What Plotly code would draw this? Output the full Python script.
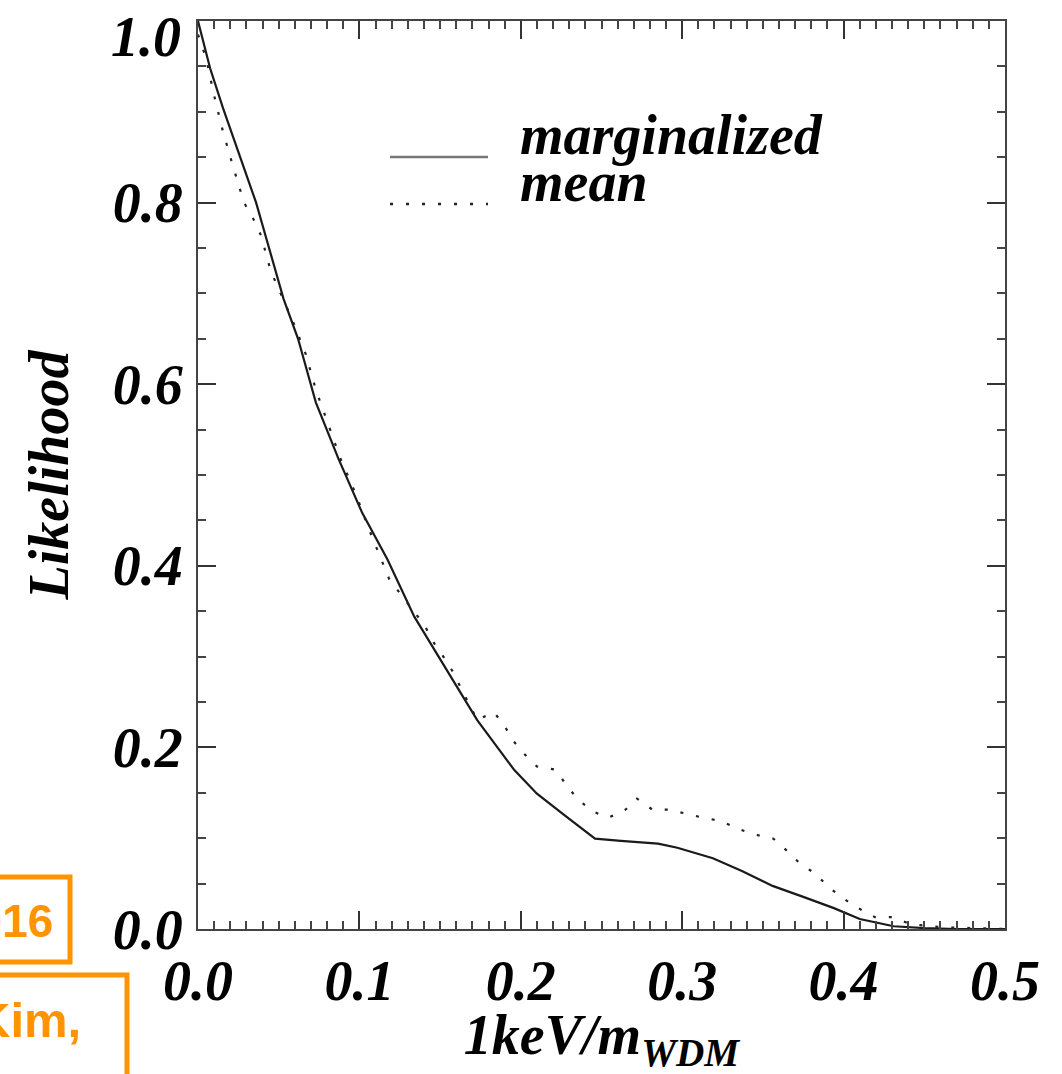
import plotly.graph_objects as go

# ---- data ----
x_marg = [0, 0.0075, 0.0155, 0.036, 0.053, 0.062, 0.073, 0.087, 0.1018, 0.1174, 0.134, 0.153,
          0.173, 0.196, 0.210, 0.228, 0.246, 0.262, 0.285, 0.297, 0.319, 0.337, 0.356, 0.375,
          0.394, 0.410, 0.431, 0.45, 0.47, 0.5]
y_marg = [1.0, 0.948, 0.904, 0.80, 0.694, 0.65, 0.58, 0.518, 0.458, 0.407, 0.344, 0.288,
          0.230, 0.175, 0.149, 0.124, 0.0995, 0.097, 0.094, 0.0895, 0.078, 0.064, 0.0475, 0.0354,
          0.023, 0.011, 0.003, 0.001, 0.0, 0.0]

x_mean = [0, 0.005, 0.010, 0.0155, 0.0217, 0.0285, 0.034, 0.039, 0.045, 0.0495, 0.0586, 0.0668,
          0.073, 0.0885, 0.098, 0.106, 0.1145, 0.119, 0.127, 0.133, 0.140, 0.145, 0.152, 0.158,
          0.163, 0.173, 0.183, 0.189, 0.195, 0.202, 0.210, 0.2215, 0.228, 0.235, 0.244, 0.254,
          0.264, 0.272, 0.2815, 0.2915, 0.3025, 0.313, 0.324, 0.335, 0.345, 0.3565, 0.365, 0.373,
          0.3825, 0.3905, 0.3995, 0.409, 0.4195, 0.431, 0.441, 0.46, 0.48, 0.5]
y_mean = [0.985, 0.959, 0.918, 0.878, 0.84, 0.80, 0.783, 0.764, 0.725, 0.707, 0.670, 0.633,
          0.594, 0.517, 0.478, 0.44, 0.403, 0.383, 0.366, 0.351, 0.336, 0.318, 0.300, 0.283,
          0.265, 0.230, 0.239, 0.2265, 0.208, 0.193, 0.179, 0.1755, 0.159, 0.1435, 0.130, 0.1225,
          0.130, 0.1435, 0.1315, 0.1315, 0.127, 0.1225, 0.119, 0.110, 0.104, 0.0995, 0.086, 0.072,
          0.061, 0.0465, 0.034, 0.023, 0.013, 0.013, 0.0055, 0.002, 0.001, 0.0]

series_names = ["marginalized", "mean"]
x_ticks = [0.0, 0.1, 0.2, 0.3, 0.4, 0.5]
y_ticks = [0.0, 0.2, 0.4, 0.6, 0.8, 1.0]
x_title = "1keV/m<sub>WDM</sub>"
y_title = "Likelihood"

# ---- style ----
W, H = 1062, 1074
L, R, T, B = 198, 57, 21, 145
PW, PH = W - L - R, H - T - B
SERIF = "Liberation Serif"
ORANGE = "#FF9300"
DOT = "3px,13px"


def px2paper(px, py):
    return (px - L) / PW, (H - B - py) / PH


font_main = dict(family=SERIF, size=56, color="black", weight="bold", style="italic")

fig = go.Figure()
fig.add_trace(go.Scatter(x=x_marg, y=y_marg, mode="lines", name=series_names[0],
                         line=dict(color="#1a1a1a", width=2.2), showlegend=False))
fig.add_trace(go.Scatter(x=x_mean, y=y_mean, mode="lines", name=series_names[1],
                         line=dict(color="#222222", width=2.2, dash=DOT), showlegend=False))

axis_common = dict(
    showgrid=False, zeroline=False, showline=True, linecolor="#444444", linewidth=2,
    mirror="allticks", ticks="inside", tickcolor="#333333", tickwidth=2, ticklen=18,
    tickfont=font_main, automargin=False,
)

# the top y label (1.0) sits a little below its tick in the reference; drawn as annotation
y_ticktext = [f"{v:.1f}" if v < 1.0 else "" for v in y_ticks]

fig.update_xaxes(range=[0, 0.5], tickvals=x_ticks, ticktext=[f"{v:.1f}" for v in x_ticks],
                 minor=dict(dtick=0.01, ticks="inside", ticklen=8, tickcolor="#444444", tickwidth=1.5),
                 ticklabelstandoff=2, ticklabeloverflow="allow",
                 title=dict(text=x_title, font=font_main, standoff=21), **axis_common)
fig.update_yaxes(range=[0, 1.0], tickvals=y_ticks, ticktext=y_ticktext,
                 minor=dict(dtick=0.05, ticks="inside", ticklen=8, tickcolor="#444444", tickwidth=1.5),
                 ticklabelstandoff=2, ticklabeloverflow="allow",
                 title=dict(text=y_title, font=font_main, standoff=26), **axis_common)

shapes = []
annotations = []

# top y tick label
lx, ly = px2paper(183, 37)
annotations.append(dict(text=f"{y_ticks[-1]:.1f}", xref="paper", yref="paper", x=lx, y=ly,
                        xanchor="right", yanchor="middle", showarrow=False, font=font_main))

# manual legend
for i, (py, dash, col) in enumerate([(157, "solid", "#777777"), (204, DOT, "#222222")]):
    x0, y0 = px2paper(390, py)
    x1, _ = px2paper(488, py)
    shapes.append(dict(type="line", xref="paper", yref="paper", x0=x0, x1=x1, y0=y0, y1=y0,
                       line=dict(color=col, width=2.5, dash=dash)))
for name, py in zip(series_names, [135, 182]):
    ax, ay = px2paper(518, py)
    annotations.append(dict(text=name, xref="paper", yref="paper", x=ax, y=ay, xanchor="left",
                            yanchor="middle", showarrow=False, font=font_main))

# orange slide boxes (cropped at the bottom-left)
bx0, by0 = px2paper(-10, 962)
bx1, by1 = px2paper(70, 877)
shapes.append(dict(type="rect", xref="paper", yref="paper", x0=bx0, x1=bx1, y0=by0, y1=by1,
                   line=dict(color=ORANGE, width=5)))
kx0, ky0 = px2paper(-10, 1110)
kx1, ky1 = px2paper(127, 975)
shapes.append(dict(type="rect", xref="paper", yref="paper", x0=kx0, x1=kx1, y0=ky0, y1=ky1,
                   line=dict(color=ORANGE, width=5)))
sans_or = dict(family="Liberation Sans", color=ORANGE, weight="bold")
tx, ty = px2paper(55, 921)
annotations.append(dict(text="2016", xref="paper", yref="paper", x=tx, y=ty, xanchor="right",
                        yanchor="middle", showarrow=False, font=dict(size=46, **sans_or)))
tx, ty = px2paper(83, 1020)
annotations.append(dict(text="Kim,", xref="paper", yref="paper", x=tx, y=ty, xanchor="right",
                        yanchor="middle", showarrow=False, font=dict(size=49, **sans_or)))
tx, ty = px2paper(14, 1072)
annotations.append(dict(text=",", xref="paper", yref="paper", x=tx, y=ty, xanchor="right",
                        yanchor="middle", showarrow=False, font=dict(size=49, **sans_or)))

fig.update_layout(
    width=W, height=H, margin=dict(l=L, r=R, t=T, b=B, autoexpand=False),
    paper_bgcolor="white", plot_bgcolor="white",
    shapes=shapes, annotations=annotations, showlegend=False,
)

fig.write_html("out.html")
